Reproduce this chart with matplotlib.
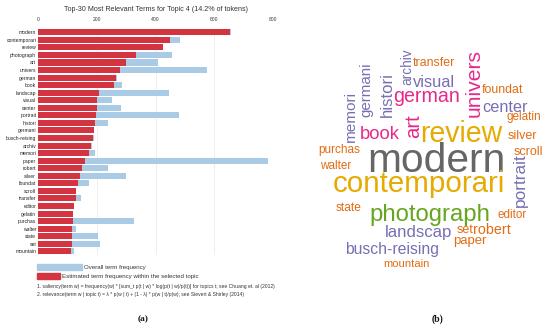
import matplotlib
matplotlib.use('Agg')
import matplotlib.pyplot as plt
from matplotlib.patches import Rectangle

# ---------------- data ----------------
terms = ["modern", "contemporari", "review", "photograph", "art", "univers",
         "german", "book", "landscap", "visual", "center", "portrait", "histori",
         "germani", "busch-reising", "archiv", "memori", "paper", "robert",
         "silver", "foundat", "scroll", "transfer", "editor", "gelatin",
         "purchas", "walter", "state", "set", "mountain"]
topic_freq = [655, 448, 425, 334, 298, 278, 266, 258, 206, 200, 200, 197, 194,
              189, 185, 179, 174, 159, 150, 144, 135, 127, 127, 121, 118,
              118, 115, 115, 115, 112]
overall_freq = [658, 483, 425, 458, 408, 577, 269, 285, 446, 253, 282, 481, 237,
                191, 191, 183, 194, 785, 237, 301, 174, 127, 146, 121, 118,
                327, 128, 205, 211, 123]
x_ticks = [0, 200, 400, 600, 800]

title = "Top-30 Most Relevant Terms for Topic 4 (14.2% of tokens)"
legend_labels = ["Overall term frequency",
                 "Estimated term frequency within the selected topic"]
notes = ["1. saliency(term w) = frequency(w) * [sum_t p(t | w) * log(p(t | w)/p(t))] for topics t; see Chuang et. al (2012)",
         "2. relevance(term w | topic t) = \u03bb * p(w | t) + (1 - \u03bb) * p(w | t)/p(w); see Sievert & Shirley (2014)"]

# word cloud words and colour groups
cloud_words = ["modern", "contemporari", "review", "photograph", "art", "univers",
               "german", "book", "landscap", "visual", "center", "portrait",
               "histori", "germani", "busch-reising", "archiv", "memori", "paper",
               "robert", "silver", "foundat", "scroll", "transfer", "editor",
               "gelatin", "purchas", "walter", "state", "set", "mountain"]
cloud_groups = ["gray", "yellow", "yellow", "green", "magenta", "magenta",
                "magenta", "magenta", "purple", "purple", "purple", "purple",
                "purple", "purple", "purple", "purple", "purple", "orange",
                "orange", "orange", "orange", "orange", "orange", "orange",
                "orange", "orange", "orange", "orange", "orange", "orange"]

# ---------------- styles / layout ----------------
palette = {"gray": "#666666", "yellow": "#e6ab02", "green": "#66a61e",
           "magenta": "#e7298a", "purple": "#7570b3", "orange": "#e36c12"}
# layout: word -> (x, baseline y, length along text, rotation) in pixels
cloud_layout = {
    "modern": (367, 172, 139, 0), "contemporari": (333, 192.5, 173, 0),
    "review": (420, 141.5, 83, 0), "photograph": (369, 221.5, 121, 0),
    "art": (419, 138, 24, 90), "univers": (480, 116.7, 68.5, 90),
    "german": (393, 102, 67, 0), "book": (360, 139.3, 40, 0),
    "landscap": (385, 236.5, 67, 0), "visual": (413, 86.7, 42, 0),
    "center": (482.7, 111.5, 45.5, 0), "portrait": (524.5, 207, 54, 90),
    "histori": (391.5, 116.7, 45, 90), "germani": (370.5, 116.7, 55, 90),
    "busch-reising": (345, 254, 94, 0), "archiv": (411.7, 85, 36.7, 90),
    "memori": (355.3, 141.7, 51.7, 90), "paper": (453.3, 244, 33.4, 0),
    "robert": (473.3, 234, 37.4, 0), "silver": (507.3, 139.3, 29.4, 0),
    "foundat": (481.7, 92.7, 41.6, 0), "scroll": (514, 155, 29.3, 0),
    "transfer": (412.7, 66, 42.3, 0), "editor": (497.3, 218.3, 29.4, 0),
    "gelatin": (506.7, 120.2, 35, 0), "purchas": (318.3, 152.5, 41.7, 0),
    "walter": (320, 169.3, 31.7, 0), "state": (336, 210.7, 25.7, 0),
    "set": (456.7, 233.3, 16.6, 0), "mountain": (383.3, 266.7, 46.7, 0),
}

W, H = 550, 329
fig = plt.figure(figsize=(W / 100, H / 100), dpi=100)
fig.patch.set_facecolor('white')


def fx(px):
    return px / W


def fy(py):
    return 1 - py / H


SANS = ['Liberation Sans', 'DejaVu Sans']
SERIF = ['Liberation Serif', 'DejaVu Serif']

# ---------------- panel (a): bar chart ----------------
top, bot = 28.5, 255.1
ax = fig.add_axes([fx(38.3), fy(bot), (272.7 - 38.3) / W, (bot - top) / H])
ypos = list(range(len(terms)))
ax.barh(ypos, overall_freq, height=0.8, color='#a9cbe5', zorder=2)
ax.barh(ypos, topic_freq, height=0.8, color='#d3343f', zorder=3)
ax.set_xlim(0, 800)
ax.set_ylim(len(terms) - 0.5, -0.5)
ax.xaxis.tick_top()
ax.set_xticks(x_ticks)
ax.set_xticklabels([str(v) for v in x_ticks], family=SANS)
ax.tick_params(axis='x', length=0, labelsize=3.6, pad=4.5, colors='#333333')
ax.set_yticks(ypos)
ax.set_yticklabels(terms, family=SANS)
ax.tick_params(axis='y', length=0, labelsize=3.6, pad=1.5, colors='#222222')
for s in ax.spines.values():
    s.set_visible(False)
ax.grid(axis='x', color='#e8e8e8', lw=0.5, zorder=0)
ax.set_axisbelow(True)

# legend boxes
fig.patches.append(Rectangle((fx(37.3), fy(270)), 44.4 / W, 5.7 / H,
                             transform=fig.transFigure, color='#a9cbe5'))
fig.patches.append(Rectangle((fx(37.3), fy(279)), 22.7 / W, 5.7 / H,
                             transform=fig.transFigure, color='#d3343f'))

fig.canvas.draw()
renderer = fig.canvas.get_renderer()


def place(txt, x, y, length=None, rot=0, color='#222222', family=SANS,
          weight='normal', size=None):
    t = fig.text(fx(x), fy(y), txt, fontsize=10, rotation=rot,
                 rotation_mode='anchor', ha='left', va='baseline',
                 color=color, family=family, fontweight=weight)
    if size is not None:
        t.set_fontsize(size)
        return size
    bb = t.get_window_extent(renderer=renderer)
    L = bb.width if rot == 0 else bb.height
    fs = 10 * length / L
    t.set_fontsize(fs)
    return fs


place(title, 64, 11, 183, color='#333333')
fs_leg = place(legend_labels[1], 61.7, 278, 137.6, color='#333333')
place(legend_labels[0], 84, 269, size=fs_leg, color='#333333')
fs_note = place(notes[0], 37.3, 288.3, 237.5, color='#333333')
place(notes[1], 37.3, 295.7, size=fs_note, color='#333333')
place("(a)", 137.5, 321.5, 11, color='#111111', family=SERIF, weight='bold')
place("(b)", 432, 321.5, 12, color='#111111', family=SERIF, weight='bold')

# ---------------- panel (b): word cloud ----------------
for w, g in zip(cloud_words, cloud_groups):
    x, y, L, rot = cloud_layout[w]
    place(w, x, y, L, rot=rot, color=palette[g])

fig.savefig('out.png', dpi=100, facecolor='white')
